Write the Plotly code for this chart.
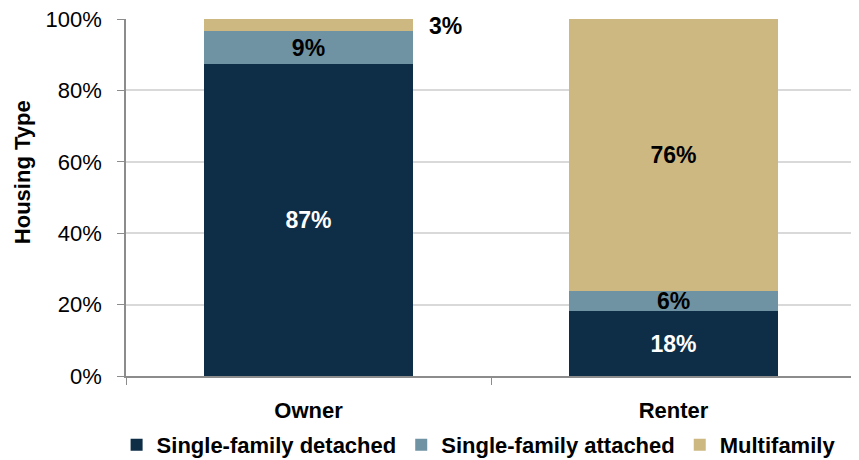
import plotly.graph_objects as go

categories = ["Owner", "Renter"]
series_names = ["Single-family detached", "Single-family attached", "Multifamily"]
detached = [87.4, 18.2]
attached = [9.2, 5.6]
multifamily = [3.4, 76.2]
y_ticks = [0, 20, 40, 60, 80, 100]
y_tick_labels = [f"{t}%" for t in y_ticks]
y_title = "Housing Type"

colors = ["#0E2D47", "#6F93A3", "#CDB882"]
label_font = "Liberation Sans, Arial"
tick_font = "Liberation Sans, Arial"

fig = go.Figure()
vals = [detached, attached, multifamily]
text_colors = ["white", "black", "black"]
for name, v, c, tc in zip(series_names, vals, colors, text_colors):
    texts = [f"{round(x)}%" for x in v]
    if name == "Multifamily":
        texts = ["", texts[1]]
    fig.add_trace(go.Bar(
        x=categories, y=v, name=name, marker=dict(color=c, line=dict(width=0)),
        text=texts, textposition="inside", insidetextanchor="middle",
        textfont=dict(family=label_font, size=23, color=tc, weight="bold"),
        hoverinfo="skip", constraintext="none",
    ))

# Owner multifamily label sits outside the bar
fig.add_annotation(x=categories[0], y=detached[0] + attached[0] + multifamily[0] / 2,
                   text=f"{round(multifamily[0])}%", showarrow=False, xref="x", yref="y",
                   xanchor="left", xshift=118, yshift=-1,
                   font=dict(family=label_font, size=23, color="black", weight="bold"))

# y-axis title (placed slightly above the plot's vertical centre, as in the reference)
fig.add_annotation(x=0, y=0.571, xref="paper", yref="paper", text=y_title,
                   showarrow=False, textangle=-90, xanchor="center", yanchor="middle",
                   xshift=-104,
                   font=dict(family=tick_font, size=22, color="black", weight="bold"))

# page body has an 8px margin, so the figure is drawn at (8, 8)
fig.update_layout(
    barmode="stack", bargap=0.43,
    width=851, height=452,
    margin=dict(l=118, r=3, t=11, b=84, autoexpand=False),
    plot_bgcolor="white", paper_bgcolor="white",
    uniformtext=dict(mode=False),
    legend=dict(orientation="h", xref="container", x=0.553, xanchor="center",
                y=-0.193, yanchor="middle",
                font=dict(family=label_font, size=22, color="black", weight="bold"),
                itemsizing="constant", traceorder="normal", tracegroupgap=0),
    xaxis=dict(showline=True, linecolor="#8C8C8C", linewidth=1.5, ticks="outside",
               tickson="boundaries", ticklen=7, tickcolor="#8C8C8C", automargin=False,
               ticklabelstandoff=14,
               tickfont=dict(family=label_font, size=22, color="black", weight="bold")),
    yaxis=dict(range=[0, 100], tickvals=y_ticks, ticktext=y_tick_labels, showline=True,
               linecolor="#8C8C8C", linewidth=1.5, ticks="outside", ticklen=7,
               tickcolor="#8C8C8C", gridcolor="#D9D9D9", gridwidth=1.5, automargin=False,
               ticklabelstandoff=11, ticklabeloverflow="allow",
               tickfont=dict(family=tick_font, size=22, color="black")),
)

fig.write_html("out.html")
